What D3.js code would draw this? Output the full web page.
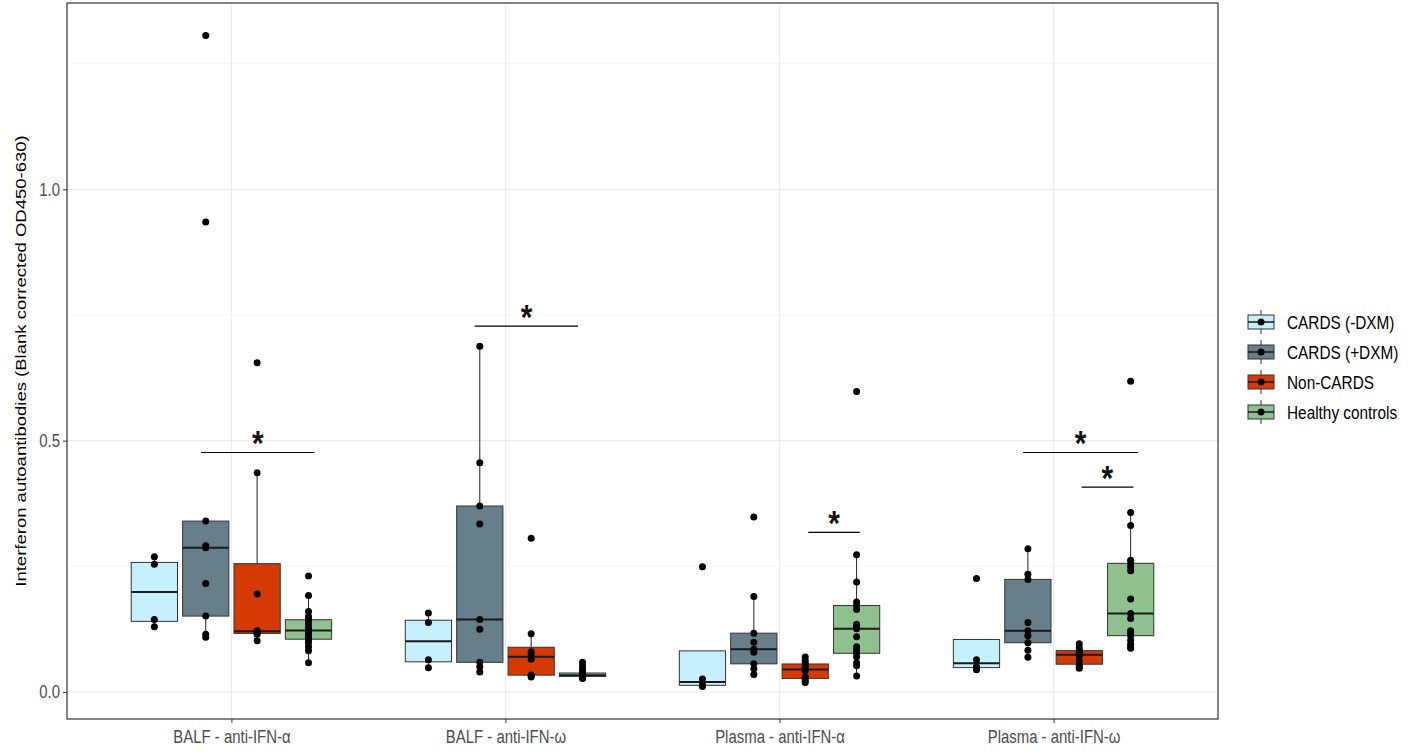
<!DOCTYPE html>
<html>
<head>
<meta charset="utf-8">
<script src="https://cdn.jsdelivr.net/npm/d3@7"></script>
<style>
  body { margin: 0; background: #fff; }
  text { font-family: "Liberation Sans", Arial, sans-serif; }
</style>
</head>
<body>
<div id="chart"></div>
<script>
// Categories and groups
const categories = ["BALF - anti-IFN-α", "BALF - anti-IFN-ω", "Plasma - anti-IFN-α", "Plasma - anti-IFN-ω"];
const groups = ["CARDS (-DXM)", "CARDS (+DXM)", "Non-CARDS", "Healthy controls"];
const groupColors = ["#C6F0FD", "#667F8B", "#D63A04", "#8FC18F"];

// Individual values, one array per category
const cardsMinusDxm = [
  [0.269, 0.254, 0.144, 0.130],
  [0.157, 0.138, 0.064, 0.048],
  [0.249, 0.026, 0.014, 0.011],
  [0.226, 0.064, 0.050, 0.044]
];
const cardsPlusDxm = [
  [1.306, 0.935, 0.340, 0.291, 0.287, 0.216, 0.151, 0.115, 0.109],
  [0.688, 0.456, 0.370, 0.334, 0.144, 0.125, 0.059, 0.050, 0.040],
  [0.348, 0.190, 0.117, 0.099, 0.085, 0.079, 0.056, 0.046, 0.035],
  [0.285, 0.234, 0.224, 0.138, 0.122, 0.112, 0.098, 0.083, 0.069]
];
const nonCards = [
  [0.655, 0.436, 0.195, 0.122, 0.120, 0.117, 0.115, 0.102],
  [0.306, 0.116, 0.080, 0.075, 0.065, 0.034, 0.032, 0.030],
  [0.0695, 0.062, 0.057, 0.052, 0.047, 0.042, 0.030, 0.026, 0.022, 0.019],
  [0.096, 0.088, 0.083, 0.080, 0.076, 0.072, 0.062, 0.053, 0.050, 0.047]
];
const healthyControls = [
  [0.231, 0.192, 0.160, 0.150, 0.145, 0.140, 0.135, 0.128, 0.124, 0.121, 0.117, 0.112, 0.108, 0.104, 0.098, 0.090, 0.082, 0.058],
  [0.059, 0.052, 0.045, 0.040, 0.038, 0.037, 0.036, 0.035, 0.034, 0.033, 0.033, 0.032, 0.031, 0.031, 0.030, 0.029, 0.028, 0.027],
  [0.598, 0.273, 0.219, 0.179, 0.172, 0.164, 0.135, 0.130, 0.126, 0.110, 0.090, 0.083, 0.077, 0.070, 0.058, 0.052, 0.032],
  [0.618, 0.357, 0.331, 0.262, 0.256, 0.249, 0.241, 0.185, 0.156, 0.146, 0.122, 0.116, 0.112, 0.103, 0.095, 0.090, 0.087]
];
const groupValues = [cardsMinusDxm, cardsPlusDxm, nonCards, healthyControls];

// Significance brackets (x in category units, 1 = first category)
const sigX1 = [0.889, 1.888, 3.105, 3.889, 4.102];
const sigX2 = [1.303, 2.265, 3.293, 4.308, 4.291];
const sigY = [0.4765, 0.728, 0.3175, 0.4765, 0.4076];
const sigLabels = ["*", "*", "*", "*", "*"];

const yTitle = "Interferon autoantibodies (Blank corrected OD450-630)";

const width = 1417, height = 753;
const panel = { left: 67, right: 1218, top: 3, bottom: 719 };
const squeeze = 0.83; // the text in the picture is narrower than it is tall

const svg = d3.select("#chart").append("svg")
  .attr("width", width)
  .attr("height", height);

svg.append("rect").attr("width", width).attr("height", height).attr("fill", "white");

// Flatten into rows
const rows = [];
categories.forEach((cat, ci) => {
  groups.forEach((g, gi) => {
    const vals = groupValues[gi][ci].slice().sort(d3.ascending);
    const q1 = d3.quantile(vals, 0.25);
    const med = d3.quantile(vals, 0.5);
    const q3 = d3.quantile(vals, 0.75);
    const iqr = q3 - q1;
    const lo = d3.min(vals.filter(v => v >= q1 - 1.5 * iqr));
    const hi = d3.max(vals.filter(v => v <= q3 + 1.5 * iqr));
    rows.push({ cat, group: g, gi, vals, q1, med, q3, lo, hi });
  });
});

// Scales
const allVals = rows.flatMap(r => r.vals);
const [vMin, vMax] = d3.extent(allVals);
const pad = (vMax - vMin) * 0.05;
const y = d3.scaleLinear().domain([vMin - pad, vMax + pad]).range([panel.bottom, panel.top]);

const x = d3.scalePoint().domain(categories).range([panel.left, panel.right]).padding(0.6);
const step = x.step();
const xDodge = d3.scaleBand().domain(groups)
  .range([-0.375 * step, 0.375 * step])
  .paddingInner(0.1).paddingOuter(0.05);
const xNum = d3.scaleLinear().domain([1, categories.length])
  .range([x(categories[0]), x(categories[categories.length - 1])]);
const color = d3.scaleOrdinal().domain(groups).range(groupColors);

// Grid
const majorTicks = y.ticks(3);
const tickStep = majorTicks[1] - majorTicks[0];
const minorTicks = majorTicks.map(t => t + tickStep / 2).filter(t => t < y.domain()[1]);

const grid = svg.append("g");
grid.selectAll(".minor").data(minorTicks).join("line")
  .attr("x1", panel.left).attr("x2", panel.right)
  .attr("y1", d => y(d)).attr("y2", d => y(d))
  .attr("stroke", "#F2F2F2").attr("stroke-width", 0.8);
grid.selectAll(".major").data(majorTicks).join("line")
  .attr("x1", panel.left).attr("x2", panel.right)
  .attr("y1", d => y(d)).attr("y2", d => y(d))
  .attr("stroke", "#EBEBEB").attr("stroke-width", 1.2);
grid.selectAll(".vmajor").data(categories).join("line")
  .attr("x1", d => x(d)).attr("x2", d => x(d))
  .attr("y1", panel.top).attr("y2", panel.bottom)
  .attr("stroke", "#EBEBEB").attr("stroke-width", 1.2);

// Boxes
const boxW = xDodge.bandwidth();
const boxes = svg.append("g").selectAll("g").data(rows).join("g")
  .attr("transform", d => `translate(${x(d.cat) + xDodge(d.group) + boxW / 2},0)`);

boxes.append("line")
  .attr("x1", 0).attr("x2", 0)
  .attr("y1", d => y(d.hi)).attr("y2", d => y(d.lo))
  .attr("stroke", "#222").attr("stroke-width", 1);

boxes.append("rect")
  .attr("x", -boxW / 2).attr("width", boxW)
  .attr("y", d => y(d.q3))
  .attr("height", d => y(d.q1) - y(d.q3))
  .attr("fill", d => color(d.group))
  .attr("stroke", "#333").attr("stroke-width", 1);

boxes.append("line")
  .attr("x1", -boxW / 2).attr("x2", boxW / 2)
  .attr("y1", d => y(d.med)).attr("y2", d => y(d.med))
  .attr("stroke", "#1a1a1a").attr("stroke-width", 2);

boxes.selectAll("circle").data(d => d.vals).join("circle")
  .attr("cx", 0).attr("cy", v => y(v)).attr("r", 3.5)
  .attr("fill", "black");

// Significance brackets
const sig = svg.append("g");
sigY.forEach((sy, i) => {
  sig.append("line")
    .attr("x1", xNum(sigX1[i])).attr("x2", xNum(sigX2[i]))
    .attr("y1", y(sy)).attr("y2", y(sy))
    .attr("stroke", "black").attr("stroke-width", 1.2);
  sig.append("text")
    .attr("transform", `translate(${(xNum(sigX1[i]) + xNum(sigX2[i])) / 2},${y(sy) + 3}) scale(${squeeze},1)`)
    .attr("text-anchor", "middle")
    .attr("font-size", "36px")
    .attr("font-weight", "bold")
    .attr("fill", "#111")
    .text(sigLabels[i]);
});

// Panel border
svg.append("rect")
  .attr("x", panel.left).attr("y", panel.top)
  .attr("width", panel.right - panel.left).attr("height", panel.bottom - panel.top)
  .attr("fill", "none").attr("stroke", "#333").attr("stroke-width", 1.2);

// Axes
const yAxis = svg.append("g")
  .attr("transform", `translate(${panel.left},0)`)
  .call(d3.axisLeft(y).tickValues(majorTicks).tickFormat(d3.format(".1f")).tickSize(4));
yAxis.select(".domain").remove();
yAxis.selectAll(".tick line").attr("stroke", "#333");
yAxis.selectAll(".tick text")
  .attr("x", null).attr("dy", null)
  .attr("transform", `translate(-7,6) scale(${squeeze},1)`)
  .attr("font-size", "18px")
  .attr("fill", "#4D4D4D");

const xAxis = svg.append("g")
  .attr("transform", `translate(0,${panel.bottom})`)
  .call(d3.axisBottom(x).tickSize(4));
xAxis.select(".domain").remove();
xAxis.selectAll(".tick line").attr("stroke", "#333");
xAxis.selectAll(".tick text")
  .attr("y", null).attr("dy", null)
  .attr("transform", `translate(0,24) scale(${squeeze},1)`)
  .attr("font-size", "18px")
  .attr("fill", "#4D4D4D");

// Y axis title
svg.append("text")
  .attr("transform", `translate(26,${(panel.top + panel.bottom) / 2}) scale(${squeeze},1) rotate(-90)`)
  .attr("text-anchor", "middle")
  .attr("font-size", "18.5px")
  .attr("fill", "black")
  .text(yTitle);

// Legend
const legend = svg.append("g").attr("transform", "translate(1261,322)");
const keyW = 26, keyH = 14, rowGap = 30;
const item = legend.selectAll("g").data(groups).join("g")
  .attr("transform", (d, i) => `translate(0,${i * rowGap})`);
item.append("line")
  .attr("x1", 0).attr("x2", 0).attr("y1", -12).attr("y2", 12)
  .attr("stroke", "#333").attr("stroke-width", 1);
item.append("rect")
  .attr("x", -keyW / 2).attr("y", -keyH / 2)
  .attr("width", keyW).attr("height", keyH)
  .attr("fill", d => color(d)).attr("stroke", "#333").attr("stroke-width", 1);
item.append("line")
  .attr("x1", -keyW / 2).attr("x2", keyW / 2).attr("y1", 0).attr("y2", 0)
  .attr("stroke", "#1a1a1a").attr("stroke-width", 1.5);
item.append("circle").attr("r", 3.5).attr("fill", "black");
item.append("text")
  .attr("transform", `translate(26,6.5) scale(${squeeze},1)`)
  .attr("font-size", "18.5px")
  .attr("fill", "black")
  .text(d => d);
</script>
</body>
</html>
